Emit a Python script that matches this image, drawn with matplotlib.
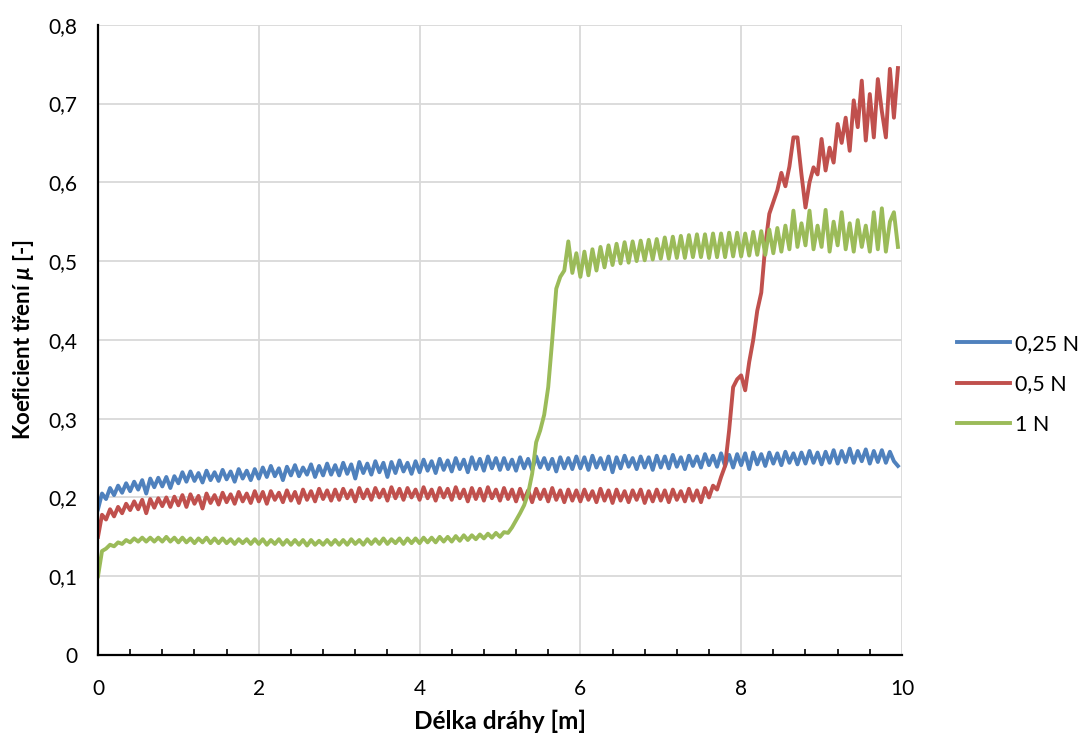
import numpy as np
import matplotlib
matplotlib.use("Agg")
from matplotlib import pyplot as plt
import matplotlib.ticker as ticker

plt.rcParams['font.family'] = ['Lato', 'DejaVu Sans']
plt.rcParams['mathtext.fontset'] = 'custom'
plt.rcParams['mathtext.bfit'] = 'Lato:bold:italic'

# distance [m], one reading every 0.05 m
distance = np.round(np.arange(200) * 0.05, 2)

mu_025 = [
    0.185, 0.205, 0.198, 0.212, 0.203, 0.215, 0.206, 0.218, 0.208, 0.220, 0.210, 0.222, 0.205, 0.224, 0.213, 0.225, 0.214, 0.226, 0.212, 0.227,
    0.218, 0.232, 0.220, 0.233, 0.221, 0.231, 0.219, 0.234, 0.222, 0.232, 0.221, 0.235, 0.223, 0.233, 0.220, 0.236, 0.224, 0.234, 0.222, 0.236,
    0.224, 0.238, 0.226, 0.240, 0.227, 0.237, 0.222, 0.239, 0.228, 0.241, 0.227, 0.238, 0.229, 0.242, 0.226, 0.240, 0.228, 0.243, 0.229, 0.241,
    0.228, 0.244, 0.230, 0.242, 0.224, 0.245, 0.231, 0.243, 0.229, 0.246, 0.232, 0.244, 0.226, 0.245, 0.231, 0.247, 0.233, 0.244, 0.230, 0.246,
    0.232, 0.248, 0.234, 0.246, 0.231, 0.249, 0.235, 0.247, 0.233, 0.250, 0.236, 0.248, 0.232, 0.251, 0.236, 0.249, 0.234, 0.252, 0.237, 0.250,
    0.235, 0.250, 0.236, 0.248, 0.234, 0.251, 0.237, 0.249, 0.235, 0.252, 0.238, 0.250, 0.236, 0.249, 0.233, 0.251, 0.237, 0.250, 0.236, 0.252,
    0.237, 0.251, 0.235, 0.253, 0.238, 0.250, 0.236, 0.252, 0.232, 0.251, 0.237, 0.253, 0.239, 0.250, 0.236, 0.252, 0.238, 0.251, 0.235, 0.253,
    0.238, 0.252, 0.237, 0.254, 0.239, 0.251, 0.236, 0.253, 0.240, 0.252, 0.238, 0.255, 0.241, 0.253, 0.239, 0.256, 0.240, 0.254, 0.238, 0.255,
    0.241, 0.256, 0.236, 0.257, 0.242, 0.255, 0.240, 0.257, 0.243, 0.256, 0.241, 0.258, 0.244, 0.256, 0.242, 0.257, 0.243, 0.259, 0.244, 0.257,
    0.242, 0.258, 0.244, 0.260, 0.243, 0.259, 0.245, 0.262, 0.244, 0.259, 0.246, 0.261, 0.243, 0.259, 0.245, 0.260, 0.244, 0.258, 0.246, 0.240,
]

mu_05 = [
    0.150, 0.178, 0.172, 0.185, 0.176, 0.188, 0.180, 0.192, 0.184, 0.195, 0.185, 0.197, 0.180, 0.198, 0.187, 0.199, 0.189, 0.200, 0.188, 0.201,
    0.190, 0.203, 0.188, 0.204, 0.192, 0.202, 0.186, 0.205, 0.193, 0.203, 0.191, 0.206, 0.194, 0.204, 0.192, 0.207, 0.195, 0.205, 0.193, 0.208,
    0.195, 0.207, 0.192, 0.208, 0.197, 0.206, 0.194, 0.209, 0.196, 0.207, 0.193, 0.210, 0.197, 0.208, 0.195, 0.211, 0.198, 0.209, 0.196, 0.210,
    0.197, 0.211, 0.199, 0.209, 0.195, 0.212, 0.199, 0.210, 0.197, 0.212, 0.200, 0.210, 0.196, 0.213, 0.199, 0.211, 0.197, 0.212, 0.200, 0.210,
    0.197, 0.213, 0.199, 0.210, 0.196, 0.212, 0.200, 0.211, 0.197, 0.213, 0.199, 0.210, 0.195, 0.212, 0.198, 0.211, 0.196, 0.213, 0.199, 0.210,
    0.196, 0.212, 0.198, 0.210, 0.195, 0.211, 0.197, 0.209, 0.194, 0.211, 0.198, 0.210, 0.195, 0.212, 0.197, 0.209, 0.194, 0.210, 0.196, 0.209,
    0.195, 0.210, 0.197, 0.208, 0.194, 0.211, 0.196, 0.209, 0.193, 0.210, 0.196, 0.208, 0.194, 0.209, 0.197, 0.210, 0.193, 0.208, 0.195, 0.210,
    0.196, 0.209, 0.194, 0.210, 0.197, 0.208, 0.195, 0.211, 0.196, 0.209, 0.194, 0.212, 0.200, 0.215, 0.210, 0.226, 0.240, 0.285, 0.340, 0.350,
    0.355, 0.336, 0.372, 0.400, 0.437, 0.460, 0.520, 0.560, 0.575, 0.590, 0.612, 0.595, 0.620, 0.657, 0.657, 0.610, 0.568, 0.600, 0.619, 0.610,
    0.655, 0.615, 0.644, 0.625, 0.674, 0.650, 0.682, 0.640, 0.704, 0.670, 0.729, 0.653, 0.712, 0.657, 0.731, 0.690, 0.657, 0.744, 0.682, 0.745,
]

mu_1 = [
    0.100, 0.132, 0.135, 0.140, 0.138, 0.143, 0.141, 0.146, 0.143, 0.148, 0.144, 0.149, 0.144, 0.149, 0.144, 0.149, 0.144, 0.150, 0.144, 0.149,
    0.143, 0.149, 0.143, 0.148, 0.142, 0.148, 0.143, 0.149, 0.142, 0.148, 0.142, 0.148, 0.142, 0.147, 0.141, 0.147, 0.142, 0.147, 0.141, 0.147,
    0.141, 0.147, 0.140, 0.146, 0.141, 0.147, 0.140, 0.146, 0.140, 0.146, 0.140, 0.146, 0.139, 0.146, 0.140, 0.145, 0.140, 0.146, 0.140, 0.146,
    0.140, 0.146, 0.140, 0.147, 0.141, 0.146, 0.140, 0.147, 0.141, 0.147, 0.141, 0.148, 0.141, 0.147, 0.142, 0.148, 0.141, 0.148, 0.142, 0.148,
    0.142, 0.149, 0.143, 0.149, 0.143, 0.150, 0.144, 0.150, 0.144, 0.151, 0.145, 0.152, 0.146, 0.152, 0.147, 0.153, 0.148, 0.154, 0.149, 0.155,
    0.150, 0.156, 0.155, 0.162, 0.171, 0.180, 0.190, 0.205, 0.230, 0.270, 0.285, 0.305, 0.340, 0.400, 0.465, 0.480, 0.488, 0.525, 0.485, 0.510,
    0.480, 0.512, 0.482, 0.515, 0.488, 0.518, 0.492, 0.520, 0.495, 0.522, 0.497, 0.524, 0.498, 0.525, 0.500, 0.526, 0.501, 0.527, 0.502, 0.528,
    0.503, 0.530, 0.503, 0.531, 0.504, 0.532, 0.504, 0.533, 0.505, 0.534, 0.505, 0.534, 0.504, 0.535, 0.505, 0.535, 0.505, 0.536, 0.506, 0.536,
    0.506, 0.535, 0.507, 0.537, 0.508, 0.538, 0.508, 0.540, 0.510, 0.542, 0.512, 0.545, 0.515, 0.564, 0.518, 0.548, 0.520, 0.564, 0.515, 0.545,
    0.518, 0.565, 0.512, 0.550, 0.520, 0.562, 0.515, 0.548, 0.512, 0.552, 0.518, 0.545, 0.512, 0.562, 0.515, 0.567, 0.512, 0.550, 0.562, 0.518,
]

labels = ['0,25 N', '0,5 N', '1 N']
colors = ['#4f81bd', '#c0504d', '#9bbb59']
yticks = [0, 0.1, 0.2, 0.3, 0.4, 0.5, 0.6, 0.7, 0.8]
ytick_labels = ['0', '0,1', '0,2', '0,3', '0,4', '0,5', '0,6', '0,7', '0,8']
xticks = [0, 2, 4, 6, 8, 10]

fig = plt.figure(figsize=(10.78, 7.36), dpi=100)
ax = fig.add_axes([0.0909, 0.110, 0.7458, 0.8564])

for series, lab, c in zip([mu_025, mu_05, mu_1], labels, colors):
    ax.plot(distance, series, color=c, lw=2.8, label=lab, solid_joinstyle='round')

ax.set_xlim(0, 10)
ax.set_ylim(0, 0.8)
ax.set_xticks(xticks)
ax.set_xticklabels([str(t) for t in xticks])
ax.set_yticks(yticks)
ax.set_yticklabels(ytick_labels)
ax.xaxis.set_minor_locator(ticker.MultipleLocator(0.4))
ax.tick_params(axis='x', which='major', length=0, pad=17, labelsize=15)
ax.tick_params(axis='x', which='minor', direction='in', length=4, width=1.2, color='black')
ax.tick_params(axis='y', which='major', length=0, pad=15, labelsize=15)

ax.grid(which='major', color='#d9d9d9', lw=1.3)
ax.set_axisbelow(True)
for s in ['top', 'right']:
    ax.spines[s].set_visible(False)
for s in ['left', 'bottom']:
    ax.spines[s].set_linewidth(1.6)
    ax.spines[s].set_color('black')

ax.set_xlabel('Délka dráhy [m]', fontsize=17.5, fontweight='bold', labelpad=8)
ax.set_ylabel(r'Koeficient tření $\mathbfit{\mu}$ [-]', fontsize=16, fontweight='bold', labelpad=9)

fig.legend(loc='center left', bbox_to_anchor=(0.870, 0.478), frameon=False,
           fontsize=15.5, handlelength=2.45, handletextpad=0.22, labelspacing=0.95)

plt.savefig('out.png', dpi=100)
